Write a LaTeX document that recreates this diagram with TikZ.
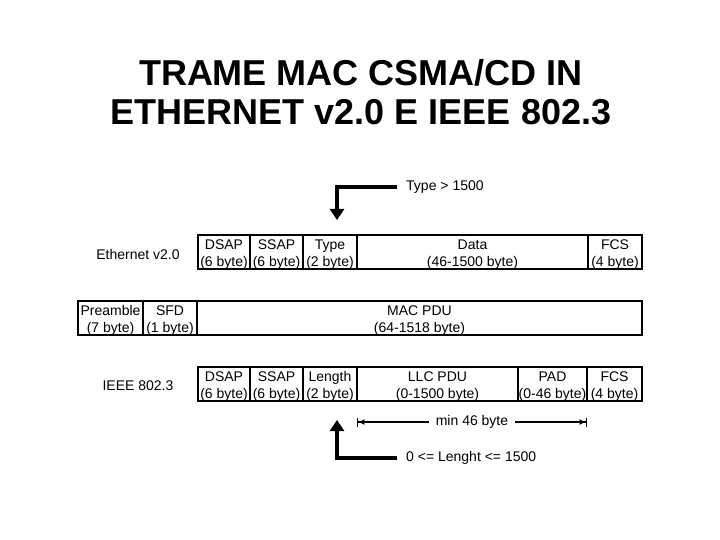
\documentclass[tikz,border=0pt]{standalone}
\usepackage{fontspec}
\setmainfont{Liberation Sans}
\usetikzlibrary{arrows.meta, positioning}

\newcommand{\cellt}[2]{\rule{0pt}{14pt}#1\\#2\rule[-3pt]{0pt}{3pt}}

\begin{document}
\begin{tikzpicture}[x=1pt, y=-1pt,
  cell/.style={draw, line width=1.8pt, rectangle, minimum height=34pt,
    inner sep=0pt, outer sep=0pt, align=center,
    font=\fontsize{14}{17}\selectfont},
  lbl/.style={font=\fontsize{14}{17}\selectfont, inner sep=0pt},
  bigarrow/.style={line width=4.5pt, -{Triangle[length=11pt, width=14pt]}},
  dimline/.style={line width=1.3pt,
    {Bar[width=9pt]Latex[length=6pt, width=6pt]}-{Latex[length=6pt, width=6pt]Bar[width=9pt]}}
]
\useasboundingbox (0,0) rectangle (720,540);

\node[font=\bfseries\fontsize{36}{39}\selectfont, align=center, inner sep=0pt] (title)
  at (361,92.5) {TRAME MAC CSMA/CD IN\\ETHERNET v2.0 E IEEE 802.3};

\node[cell, minimum width=52pt, anchor=west] (dsapT) at (198,252) {\cellt{DSAP}{(6 byte)}};
\node[cell, minimum width=53pt, right=0pt of dsapT] (ssapT) {\cellt{SSAP}{(6 byte)}};
\node[cell, minimum width=54pt, right=0pt of ssapT] (typeT) {\cellt{Type}{(2 byte)}};
\node[cell, minimum width=231pt, right=0pt of typeT] (dataT) {\cellt{Data}{(46-1500 byte)}};
\node[cell, minimum width=54pt, right=0pt of dataT] (fcsT) {\cellt{FCS}{(4 byte)}};

\node[cell, minimum width=65pt, anchor=west] (preamble) at (78,318) {\cellt{Preamble}{(7 byte)}};
\node[cell, minimum width=54pt, right=0pt of preamble] (sfd) {\cellt{SFD}{(1 byte)}};
\node[cell, minimum width=445pt, right=0pt of sfd] (macpdu) {\cellt{MAC PDU}{(64-1518 byte)}};

\node[cell, minimum width=52pt, anchor=west] (dsapB) at (198,384) {\cellt{DSAP}{(6 byte)}};
\node[cell, minimum width=53pt, right=0pt of dsapB] (ssapB) {\cellt{SSAP}{(6 byte)}};
\node[cell, minimum width=54pt, right=0pt of ssapB] (lengthB) {\cellt{Length}{(2 byte)}};
\node[cell, minimum width=161pt, right=0pt of lengthB] (llcB) {\cellt{LLC PDU}{(0-1500 byte)}};
\node[cell, minimum width=69pt, right=0pt of llcB] (padB) {\cellt{PAD}{(0-46 byte)}};
\node[cell, minimum width=55pt, right=0pt of padB] (fcsB) {\cellt{FCS}{(4 byte)}};

\node[lbl] (ethlbl) at (138,254) {Ethernet v2.0};
\node[lbl] (ieeelbl) at (138,386) {IEEE 802.3};

\node[lbl, anchor=west] (typelbl) at (406,187) {Type > 1500};
\node[lbl, anchor=west] (lenlbl) at (406,458) {0 <= Lenght <= 1500};

\draw[bigarrow] ([xshift=-9pt]typelbl.west) -| ([xshift=7pt, yshift=15pt]typeT.north);
\draw[bigarrow] ([xshift=-9pt]lenlbl.west) -| ([xshift=7pt, yshift=-19pt]lengthB.south);

\draw[dimline] ([yshift=-21pt]llcB.south west) -- node[lbl, fill=white, inner xsep=7pt, inner ysep=2pt]{min 46 byte}
  ([yshift=-21pt]padB.south east);
\end{tikzpicture}
\end{document}
